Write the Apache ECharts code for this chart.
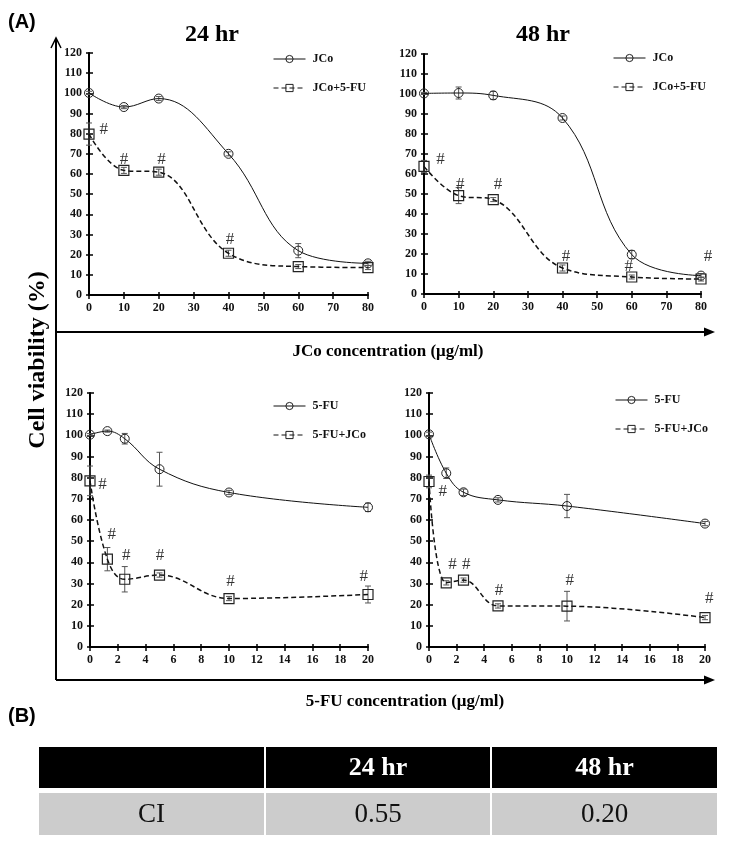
<!DOCTYPE html>
<html><head><meta charset="utf-8">
<script src="https://cdn.jsdelivr.net/npm/echarts@6/dist/echarts.min.js"></script>
<style>html,body{margin:0;padding:0;background:#fff}#c{width:756px;height:855px}</style>
</head><body><div id="c"></div>
<script>
// ---- data ----
const jcoDoses = [0, 10, 20, 40, 60, 80];
const fuDoses = [0, 1.25, 2.5, 5, 10, 20];
const jco24 = [100.2, 93.2, 97.4, 70.0, 22.0, 15.7];
const jco24Err = [0.8, 0.8, 1, 1, 3.5, 1];
const jcoFu24 = [79.8, 61.8, 60.9, 20.7, 14.1, 13.6];
const jcoFu24Err = [5.5, 1.5, 1.5, 1.5, 1, 1];
const jco48 = [100.3, 100.5, 99.3, 88.0, 19.7, 9.2];
const jco48Err = [0.5, 3, 2, 1, 2, 1];
const jcoFu48 = [63.8, 49.2, 47.2, 13.0, 8.5, 7.5];
const jcoFu48Err = [3, 4, 1, 1.5, 1, 1];
const fu24 = [100.3, 102.0, 98.4, 84.0, 73.0, 66.0];
const fu24Err = [0.5, 0.5, 2.5, 8, 1, 2];
const fuJco24 = [78.5, 41.5, 32.0, 34.0, 22.9, 24.8];
const fuJco24Err = [7, 5.5, 6, 1, 1, 4];
const fu48 = [100.5, 82.1, 73.1, 69.5, 66.6, 58.3];
const fu48Err = [1, 2.5, 1.5, 1, 5.5, 1];
const fuJco48 = [78.2, 30.3, 31.6, 19.4, 19.3, 13.9];
const fuJco48Err = [3, 1, 1, 1, 7, 1];
const hashJco24 = [[4.2, 82], [10, 67.4], [20.8, 67.4], [40.4, 27.3]];
const hashJco48 = [[4.8, 67.2], [10.5, 54.7], [21.4, 54.7], [41, 18.8], [59.1, 13.8], [82, 18.8]];
const hashFu24 = [[0.9, 76.9], [1.56, 52.9], [2.6, 43.4], [5.04, 43.4], [10.1, 30.8], [19.7, 33.2]];
const hashFu48 = [[1.0, 73.4], [1.7, 39], [2.7, 39], [5.07, 26.8], [10.2, 31.6], [20.3, 22.9]];
const yScale = { min: 0, max: 120, interval: 10 };
const xScaleJco = { min: 0, max: 80, interval: 10 };
const xScaleFu = { min: 0, max: 20, interval: 2 };
const timeTitles = ['24 hr', '48 hr'];
const axisTitles = ['JCo concentration (μg/ml)', '5-FU concentration (μg/ml)'];
const yTitle = 'Cell viability (%)';
const panelLetters = ['(A)', '(B)'];
const tableHeader = ['', '24 hr', '48 hr'];
const tableRow = ['CI', '0.55', '0.20'];

// ---- build ----
const SERIF = '"Liberation Serif","Times New Roman",serif';
const SANS = '"Liberation Sans",Arial,sans-serif';

const panels = [
  { grid: { left: 89, top: 53, width: 279, height: 242 }, xs: xScaleJco, doses: jcoDoses,
    a: jco24, aErr: jco24Err, b: jcoFu24, bErr: jcoFu24Err, hash: hashJco24,
    names: ['JCo', 'JCo+5-FU'], legend: { left: 273, top: 53 } },
  { grid: { left: 424, top: 54, width: 277, height: 240 }, xs: xScaleJco, doses: jcoDoses,
    a: jco48, aErr: jco48Err, b: jcoFu48, bErr: jcoFu48Err, hash: hashJco48,
    names: ['JCo', 'JCo+5-FU'], legend: { left: 613, top: 52 } },
  { grid: { left: 90, top: 393, width: 278, height: 254 }, xs: xScaleFu, doses: fuDoses,
    a: fu24, aErr: fu24Err, b: fuJco24, bErr: fuJco24Err, hash: hashFu24,
    names: ['5-FU', '5-FU+JCo'], legend: { left: 273, top: 400 } },
  { grid: { left: 429, top: 393, width: 276, height: 254 }, xs: xScaleFu, doses: fuDoses,
    a: fu48, aErr: fu48Err, b: fuJco48, bErr: fuJco48Err, hash: hashFu48,
    names: ['5-FU', '5-FU+JCo'], legend: { left: 615, top: 394 } }
];

const grids = [], xAxes = [], yAxes = [], series = [], legends = [];
const labelStyle = { fontFamily: SERIF, fontWeight: 'bold', fontSize: 12, color: '#111' };

function errorRender(params, api) {
  const x = api.value(0), lo = api.value(1), hi = api.value(2);
  const p1 = api.coord([x, hi]), p2 = api.coord([x, lo]);
  const st = { stroke: '#555', lineWidth: 1 };
  return { type: 'group', children: [
    { type: 'line', shape: { x1: p1[0], y1: p1[1], x2: p2[0], y2: p2[1] }, style: st },
    { type: 'line', shape: { x1: p1[0] - 3, y1: p1[1], x2: p1[0] + 3, y2: p1[1] }, style: st },
    { type: 'line', shape: { x1: p2[0] - 3, y1: p2[1], x2: p2[0] + 3, y2: p2[1] }, style: st }
  ] };
}

panels.forEach((p, i) => {
  grids.push(Object.assign({ containLabel: false }, p.grid));
  const ax = 2 * i;
  xAxes.push({ gridIndex: i, type: 'value', min: p.xs.min, max: p.xs.max, interval: p.xs.interval, position: 'bottom',
    axisLine: { lineStyle: { color: '#000', width: 2 } },
    axisTick: { show: true, length: 4, lineStyle: { color: '#000', width: 1.5 } },
    axisLabel: Object.assign({ margin: 7 }, labelStyle), splitLine: { show: false } });
  xAxes.push({ gridIndex: i, type: 'value', min: p.xs.min, max: p.xs.max, interval: p.xs.interval, position: 'bottom',
    axisLine: { show: false }, axisTick: { show: true, inside: true, length: 3, lineStyle: { color: '#000', width: 1.5 } },
    axisLabel: { show: false }, splitLine: { show: false } });
  yAxes.push({ gridIndex: i, type: 'value', min: yScale.min, max: yScale.max, interval: yScale.interval, position: 'left',
    axisLine: { show: true, lineStyle: { color: '#000', width: 2 } },
    axisTick: { show: true, length: 3, lineStyle: { color: '#000', width: 1.5 } },
    axisLabel: Object.assign({ margin: 7 }, labelStyle), splitLine: { show: false } });
  yAxes.push({ gridIndex: i, type: 'value', min: yScale.min, max: yScale.max, interval: yScale.interval, position: 'left',
    axisLine: { show: false }, axisTick: { show: true, inside: true, length: 4, lineStyle: { color: '#000', width: 1.5 } },
    axisLabel: { show: false }, splitLine: { show: false } });

  const errA = p.doses.map((d, k) => [d, p.a[k] - p.aErr[k], p.a[k] + p.aErr[k]]);
  const errB = p.doses.map((d, k) => [d, p.b[k] - p.bErr[k], p.b[k] + p.bErr[k]]);
  [errA, errB].forEach(ed => series.push({ type: 'custom', xAxisIndex: ax, yAxisIndex: ax, data: ed,
    encode: { x: 0, y: [1, 2] }, renderItem: errorRender, silent: true, z: 3 }));

  series.push({ name: p.names[0], type: 'line', xAxisIndex: ax, yAxisIndex: ax, smooth: 0.4,
    data: p.doses.map((d, k) => [d, p.a[k]]), symbol: 'circle', symbolSize: 9, showAllSymbol: true,
    lineStyle: { color: '#111', width: 1 }, itemStyle: { color: 'rgba(255,255,255,0)', borderColor: '#222', borderWidth: 1 },
    z: 4, silent: true, animation: false });
  series.push({ name: p.names[1], type: 'line', xAxisIndex: ax, yAxisIndex: ax, smooth: 0.4,
    data: p.doses.map((d, k) => [d, p.b[k]]), symbol: 'rect', symbolSize: 10, showAllSymbol: true,
    lineStyle: { color: '#111', width: 1.5, type: [5, 3] }, itemStyle: { color: 'rgba(255,255,255,0)', borderColor: '#222', borderWidth: 1.2 },
    z: 4, silent: true, animation: false });
  series.push({ type: 'scatter', xAxisIndex: ax, yAxisIndex: ax, data: p.hash, symbolSize: 0, clip: false, silent: true,
    label: { show: true, position: 'inside', formatter: '#', fontFamily: SERIF, fontSize: 17, color: '#000' }, z: 5 });

  legends.push({ left: p.legend.left, top: p.legend.top, orient: 'vertical', padding: 0, itemGap: 17,
    itemWidth: 32, itemHeight: 9, selectedMode: false, data: p.names,
    lineStyle: { width: 1 }, itemStyle: { borderWidth: 1 },
    textStyle: { fontFamily: SERIF, fontWeight: 'bold', fontSize: 12, color: '#111', padding: [0, 0, 0, 2] } });
});

const graphics = [];
const blk = { stroke: '#000', lineWidth: 2 };
graphics.push({ type: 'line', shape: { x1: 56, y1: 680, x2: 56, y2: 39 }, style: blk });
graphics.push({ type: 'polyline', shape: { points: [[51, 48], [56, 38], [61, 48]] }, style: { stroke: '#000', lineWidth: 1.5, fill: null } });
[332, 680].forEach(y => {
  graphics.push({ type: 'line', shape: { x1: 56, y1: y, x2: 706, y2: y }, style: blk });
  graphics.push({ type: 'polygon', shape: { points: [[704, y - 4.5], [715, y], [704, y + 4.5]] }, style: { fill: '#000' } });
});
graphics.push({ type: 'text', x: 212, y: 35, style: { text: timeTitles[0], font: 'bold 24px ' + SERIF, fill: '#000', align: 'center', verticalAlign: 'middle' } });
graphics.push({ type: 'text', x: 543, y: 35, style: { text: timeTitles[1], font: 'bold 24px ' + SERIF, fill: '#000', align: 'center', verticalAlign: 'middle' } });
graphics.push({ type: 'text', x: 388, y: 352, style: { text: axisTitles[0], font: 'bold 17px ' + SERIF, fill: '#000', align: 'center', verticalAlign: 'middle' } });
graphics.push({ type: 'text', x: 405, y: 702, style: { text: axisTitles[1], font: 'bold 17px ' + SERIF, fill: '#000', align: 'center', verticalAlign: 'middle' } });
graphics.push({ type: 'text', x: 38, y: 360, rotation: Math.PI / 2, style: { text: yTitle, font: 'bold 24px ' + SERIF, fill: '#000', align: 'center', verticalAlign: 'middle' } });
graphics.push({ type: 'text', x: 8, y: 22, style: { text: panelLetters[0], font: 'bold 20px ' + SANS, fill: '#000', align: 'left', verticalAlign: 'middle' } });
graphics.push({ type: 'text', x: 8, y: 716, style: { text: panelLetters[1], font: 'bold 20px ' + SANS, fill: '#000', align: 'left', verticalAlign: 'middle' } });

const cols = [[39, 264], [266, 490], [492, 717]];
cols.forEach((c, k) => {
  graphics.push({ type: 'rect', shape: { x: c[0], y: 747, width: c[1] - c[0], height: 41 }, style: { fill: '#000' } });
  graphics.push({ type: 'rect', shape: { x: c[0], y: 793, width: c[1] - c[0], height: 42 }, style: { fill: '#cccccc' } });
  const cx = (c[0] + c[1]) / 2;
  if (tableHeader[k]) graphics.push({ type: 'text', x: cx, y: 768, style: { text: tableHeader[k], font: 'bold 26px ' + SERIF, fill: '#fff', align: 'center', verticalAlign: 'middle' } });
  graphics.push({ type: 'text', x: cx, y: 815, style: { text: tableRow[k], font: '27px ' + SERIF, fill: '#111', align: 'center', verticalAlign: 'middle' } });
});

const chart = echarts.init(document.getElementById('c'), null, { renderer: 'canvas' });
chart.setOption({
  animation: false,
  backgroundColor: '#fff',
  grid: grids, xAxis: xAxes, yAxis: yAxes, series: series, legend: legends,
  graphic: graphics
});
</script></body></html>
